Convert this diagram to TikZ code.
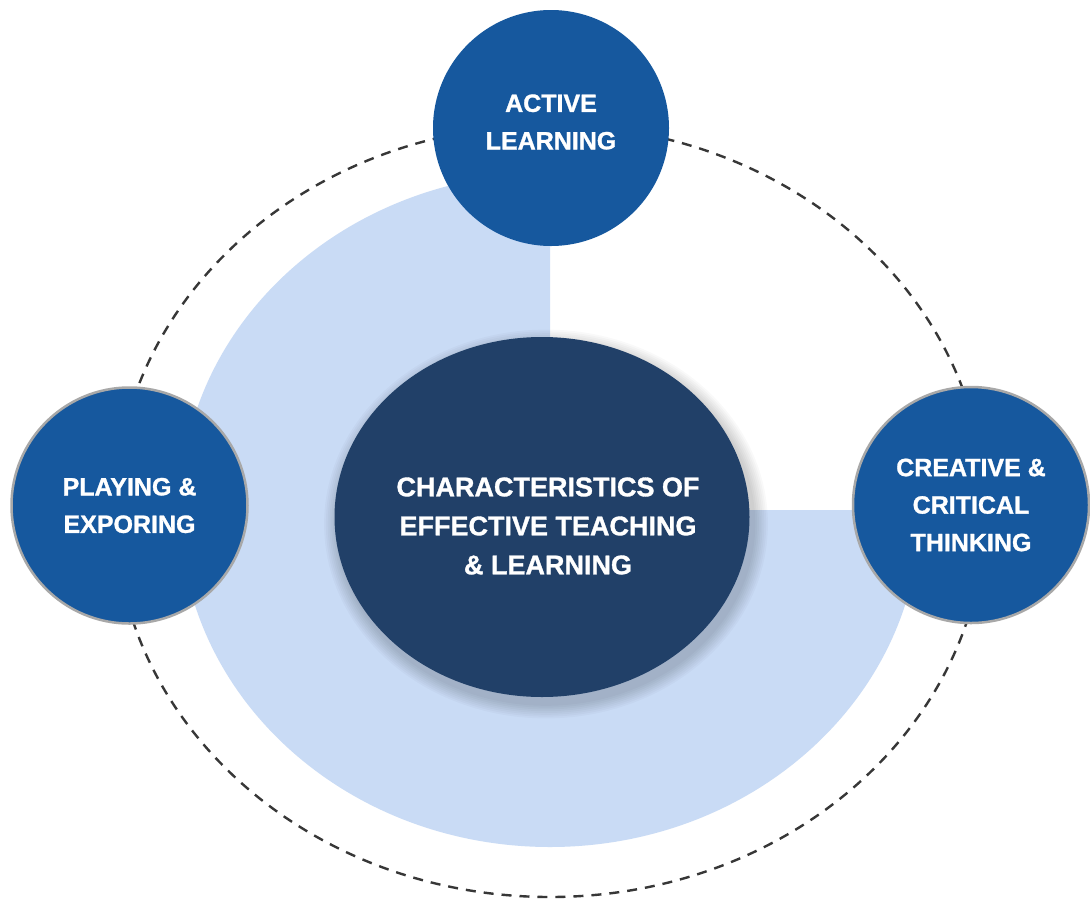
\documentclass[tikz,border=0pt]{standalone}
\usepackage{fontspec}
\setmainfont{Liberation Sans}
\newfontfamily\heavy[FakeBold=1.2]{Liberation Sans Bold}
\usetikzlibrary{shapes.geometric}
\definecolor{midblue}{RGB}{22,88,158}
\definecolor{navy}{RGB}{33,64,104}
\definecolor{paleblue}{RGB}{201,219,245}
\definecolor{ringgray}{RGB}{55,55,55}
\definecolor{rimgray}{RGB}{168,168,168}
\tikzset{
  topic/.style={circle, fill=midblue, minimum size=236pt, inner sep=0pt,
    text=white, align=center, font=\heavy\fontsize{25}{37.5}\selectfont},
  rimmed/.style={draw=rimgray, line width=2.5pt},
  core/.style={ellipse, fill=navy, minimum width=415pt, minimum height=360pt,
    inner sep=0pt, text=white, align=center, font=\heavy\fontsize{27}{39}\selectfont},
  ring/.style={draw=ringgray, line width=2.4pt, dash pattern=on 10pt off 8pt}
}
\begin{document}
\begin{tikzpicture}[x=1pt,y=-1pt]
\useasboundingbox (0,0) rectangle (1090,903);
\fill[white] (0,0) rectangle (1090,903);
% dashed ring
\draw[ring] (550,511) ellipse [x radius=435, y radius=386];
% pale three-quarter disc
\fill[paleblue] (550,510) -- (920,510) arc[start angle=0, end angle=270, x radius=370, y radius=337] -- cycle;
% soft shadow of the core
\foreach \k in {1,...,8}{
  \fill[black, opacity=0.025] (546,524) ellipse [x radius=207.5+\k*1.8, y radius=180+\k*1.8];
}
\node[core] (core) at (542,517) {};
\node[font=\heavy\fontsize{27}{39}\selectfont, text=white, align=center] (coretext) at (548,526) {CHARACTERISTICS OF\\EFFECTIVE TEACHING\\\& LEARNING};
\node[topic] (active) at (551,128) {};
\node[font=\heavy\fontsize{25}{37.5}\selectfont, text=white, align=center] (activetext) at (551,122) {ACTIVE\\LEARNING};
\node[topic, rimmed] (play) at (129.5,505.5) {PLAYING \&\\EXPORING};
\node[topic, rimmed] (create) at (971,505) {CREATIVE \&\\CRITICAL\\THINKING};
\end{tikzpicture}
\end{document}
